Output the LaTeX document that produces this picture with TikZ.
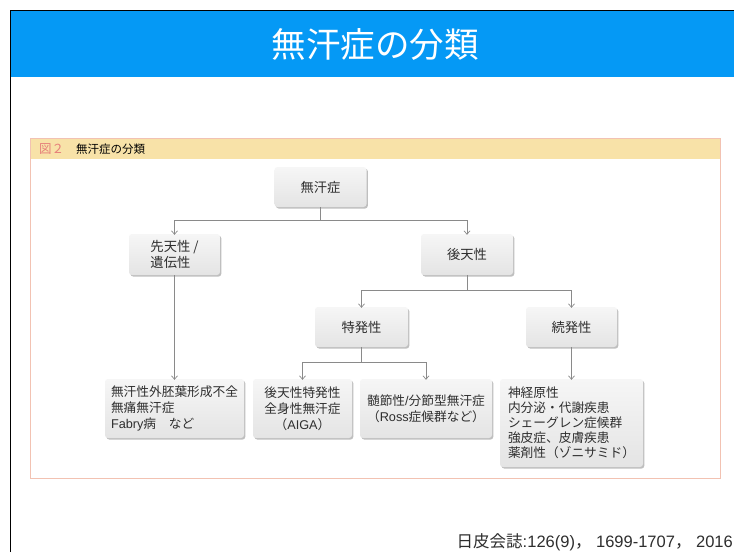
\documentclass[tikz,border=0pt]{standalone}
\usepackage{fontspec}
\setmainfont{Noto Sans CJK JP}
\newfontfamily\latinf{Liberation Sans}
\usetikzlibrary{arrows.meta,shadows,positioning}
\definecolor{hdrblue}{HTML}{0599F5}
\definecolor{framepink}{HTML}{F2C2B2}
\definecolor{capyellow}{HTML}{F8E2A8}
\definecolor{figpink}{HTML}{E6807A}
\definecolor{linegray}{HTML}{8A8A8A}
\definecolor{boxtop}{HTML}{F6F6F6}
\definecolor{boxbot}{HTML}{E4E4E4}
\tikzset{
  catbox/.style={draw=none, rounded corners=3pt, top color=boxtop, bottom color=boxbot,
    drop shadow={shadow xshift=1.4pt, shadow yshift=-1.6pt, fill=black, opacity=0.25},
    inner sep=0pt, font=\fontsize{13.3}{16}\selectfont, text=black!82},
  leafbox/.style={catbox, font=\fontsize{12.7}{16.2}\selectfont},
  conn/.style={draw=linegray, line width=0.8pt},
  arr/.style={conn, -{Straight Barb[length=3.5pt,width=6pt,line width=0.7pt]}},
}
\begin{document}
\begin{tikzpicture}[x=1pt,y=-1pt]
\useasboundingbox (0,0) rectangle (734,552);
\fill[white] (0,0) rectangle (734,552);
% slide header
\fill[hdrblue] (11,11) rectangle (734,77);
\draw[black, line width=1.5pt] (10.7,552) -- (10.7,10.7) -- (734,10.7);
\node[text=white, font=\fontsize{34.5}{38}\selectfont] (title) at (375,44) {無汗症の分類};
% figure frame
\fill[capyellow] (31,139) rectangle (720,159);
\draw[framepink, line width=1pt] (30.5,138.5) rectangle (720.5,478);
\node[anchor=west, font=\fontsize{11.5}{13}\selectfont, inner sep=0pt] (cap) at (39,149)
  {{\color{figpink}\fontsize{12.5}{13}\selectfont 図２}\hspace{12pt}無汗症の分類};
% boxes
\node[catbox, minimum width=92pt, minimum height=40pt] (top) at (320.5,187) {無汗症};
\node[catbox, minimum width=91pt, minimum height=41pt, align=left] (cong) at (174.5,254.5) {先天性 /\\遺伝性};
\node[catbox, minimum width=92pt, minimum height=41pt] (acq) at (467,254.5) {後天性};
\node[catbox, minimum width=93pt, minimum height=40pt] (idio) at (361.5,327) {特発性};
\node[catbox, minimum width=91pt, minimum height=40pt] (sec) at (571.5,327) {続発性};
\node[leafbox, minimum width=139pt, minimum height=59pt, align=left] (b1) at (174.5,408.5)
  {無汗性外胚葉形成不全\\無痛無汗症\\{\latinf Fabry}病　など};
\node[leafbox, minimum width=99pt, minimum height=59pt, align=center] (b2) at (302.5,408.5)
  {後天性特発性\\全身性無汗症\\（{\latinf AIGA}）};
\node[leafbox, minimum width=132pt, minimum height=59pt, align=center] (b3) at (426,408.5)
  {髄節性{\latinf /}分節型無汗症\\（{\latinf Ross}症候群など）};
\node[leafbox, minimum width=143pt, minimum height=88pt, align=left,
  font=\fontsize{12.7}{15}\selectfont] (b4) at (571.5,423)
  {神経原性\\内分泌・代謝疾患\\シェーグレン症候群\\強皮症、皮膚疾患\\薬剤性（ゾニサミド）};
% connectors
\coordinate (bus1) at (320.5,220);
\coordinate (bus2) at (467,290);
\coordinate (bus3) at (361.5,362.5);
\draw[conn] (top.south) -- (bus1);
\draw[arr] (bus1) -| ([yshift=-1pt]cong.north);
\draw[arr] (bus1) -| ([yshift=-1pt]acq.north);
\draw[arr] (cong.south) -- ([yshift=-1pt]b1.north);
\draw[conn] (acq.south) -- (bus2);
\draw[arr] (bus2) -| ([yshift=-1pt]idio.north);
\draw[arr] (bus2) -| ([yshift=-1pt]sec.north);
\draw[conn] (idio.south) -- (bus3);
\draw[arr] (bus3) -| ([yshift=-1pt]b2.north);
\draw[arr] (bus3) -| ([yshift=-1pt]b3.north);
\draw[arr] (sec.south) -- ([yshift=-1pt]b4.north);
% reference
\node[anchor=east, inner sep=0pt, font=\fontsize{16.5}{18}\selectfont, text=black!82] (ref) at (733,542)
  {日皮会誌{\latinf :126(9)}，{\latinf\ 1699-1707}，{\latinf\ 2016}};
\end{tikzpicture}
\end{document}
